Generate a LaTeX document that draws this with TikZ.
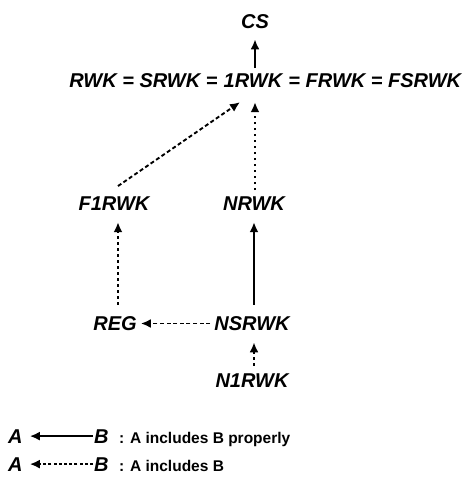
\documentclass[tikz,border=0pt]{standalone}
\usepackage{fontspec}
\setmainfont{Liberation Sans}
\usetikzlibrary{arrows.meta,calc}
\tikzset{
  lbl/.style={font=\fontsize{20}{24}\selectfont\bfseries\itshape, inner sep=0pt, anchor=base},
  legtxt/.style={font=\fontsize{15.5}{18}\selectfont\bfseries, inner sep=0pt, anchor=base west},
  conn/.style={line width=1.9pt, -{Latex[length=10pt,width=9pt]}},
  solidarrow/.style={conn},
  dottedarrow/.style={conn, dash pattern=on 2.4pt off 3.6pt},
  dashedarrow/.style={conn, dash pattern=on 4pt off 2.6pt},
  legdash/.style={conn, dash pattern=on 3pt off 2.2pt}
}
\begin{document}
\begin{tikzpicture}[x=1pt,y=-1pt]
\useasboundingbox (0,0) rectangle (470,479);
% nodes
\node[lbl] (cs) at (255,28) {CS};
\node[lbl] (onerwk) at (253,87) {1RWK};
\node[lbl, anchor=base east] (lhs) at ([xshift=-5.8pt]onerwk.base west) {RWK = SRWK =};
\node[lbl, anchor=base west] (rhs) at ([xshift=5.8pt]onerwk.base east) {= FRWK = FSRWK};
\node[lbl] (f1rwk) at (114,210) {F1RWK};
\node[lbl] (nrwk) at (254,210) {NRWK};
\node[lbl] (reg) at (115,330) {REG};
\node[lbl] (nsrwk) at (252,330) {NSRWK};
\node[lbl] (n1rwk) at (252,387) {N1RWK};
% connectors
\draw[solidarrow, shorten <=5pt, shorten >=11pt] (cs.south |- onerwk.north) -- (cs.south);
\draw[dottedarrow, shorten <=6pt, shorten >=15pt] ([xshift=1pt]nrwk.north) -- ([xshift=1pt]nrwk.north |- onerwk.south);
\draw[dashedarrow] ($(f1rwk.north)+(4,-10)$) -- ($(onerwk.south)+(-13,15)$);
\draw[dottedarrow, shorten <=11pt, shorten >=12pt] ([xshift=3pt]reg.north) -- ([xshift=3pt]reg.north |- f1rwk.south);
\draw[solidarrow, shorten <=11pt, shorten >=12pt] ([xshift=2pt]nsrwk.north) -- ([xshift=2pt]nsrwk.north |- nrwk.south);
\draw[dashedarrow, shorten <=4pt, shorten >=4pt] ([yshift=6.5pt]nsrwk.base west) -- ([yshift=6.5pt]reg.base east);
\draw[dottedarrow, shorten <=7.5pt, shorten >=12pt] ([xshift=2pt]n1rwk.north) -- ([xshift=2pt]n1rwk.north |- nsrwk.south);
% legend
\node[lbl, anchor=base west] (la1) at (8,443) {A};
\node[lbl, anchor=base west] (lb1) at (94,443) {B};
\node[legtxt] (lt1) at (119,443) {: A includes B properly};
\node[lbl, anchor=base west] (la2) at (8,471) {A};
\node[lbl, anchor=base west] (lb2) at (94,471) {B};
\node[legtxt] (lt2) at (119,471) {: A includes B};
\draw[solidarrow, shorten <=1pt, shorten >=7pt] (lb1.west) -- (la1.east);
\draw[legdash, shorten <=1pt, shorten >=7pt] (lb2.west) -- (la2.east);
\end{tikzpicture}
\end{document}
